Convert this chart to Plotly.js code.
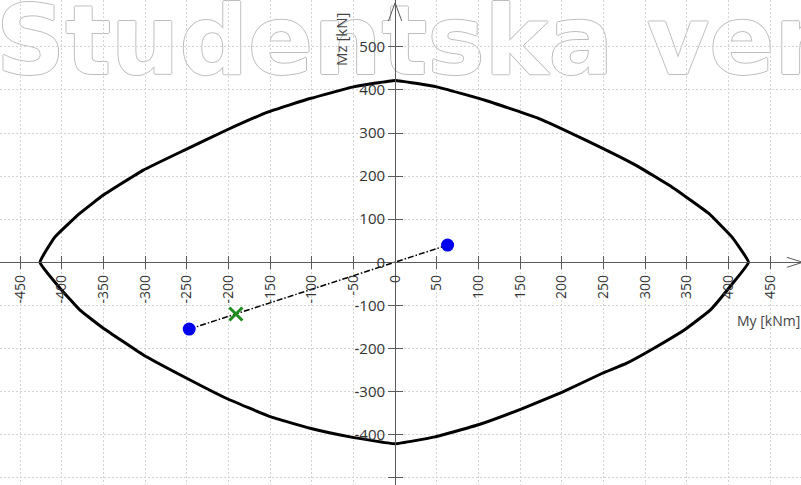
<!DOCTYPE html>
<html>
<head>
<meta charset="utf-8">
<script src="https://cdn.plot.ly/plotly-3.0.1.min.js"></script>
<style>html,body{margin:0;padding:0;background:#fff;}#chart{width:801px;height:485px;}</style>
</head>
<body>
<div id="chart"></div>
<script>
// Interaction diagram (capacity envelope), My [kNm] vs Mz [kN]
const envelopeMy = [-426, -408, -378, -350, -302, -252, -202, -152, -102, -50, 0, 50, 108, 172, 228, 288, 332, 376, 404, 424,
                    402, 378, 350, 310, 278, 248, 200, 152, 100, 48, 0, -54, -102, -150, -202, -250, -302, -350, -378, -402, -426];
const envelopeMz = [0, 59, 114, 156, 214, 261, 307, 349, 380, 407, 422, 407, 376, 334, 284, 226, 175, 114, 59, 0,
                    -56, -111, -153, -200, -234, -258, -302, -340, -377, -405, -421, -405, -385, -358, -316, -269, -215, -153, -111, -60, 0];
// Load line through origin with end points
const loadMy = [-247, 63];
const loadMz = [-155, 40];
// Design point
const designMy = [-191];
const designMz = [-120];
// Ticks
const xTicks = [-450, -400, -350, -300, -250, -200, -150, -100, -50, 0, 50, 100, 150, 200, 250, 300, 350, 400, 450];
const yTicks = [-500, -400, -300, -200, -100, 0, 100, 200, 300, 400, 500];
const xTitle = 'My [kNm]';
const yTitle = 'Mz [kN]';
const watermark = 'Studentska verzija';

const xr = [-474, 487];
const yr = [-516.7, 608.6];
const xPos = -xr[0] / (xr[1] - xr[0]);
const yPos = -yr[0] / (yr[1] - yr[0]);

const fontFam = 'Open Sans, Noto Sans, sans-serif';
const axisCol = '#5a5a5a';
const gridCol = '#d4d4d4';

const traces = [
  {x: envelopeMy, y: envelopeMz, type: 'scatter', mode: 'lines',
   line: {color: '#000', width: 3, shape: 'spline', smoothing: 0.3}, hoverinfo: 'skip'},
  {x: [loadMy[0], 0, loadMy[1]], y: [loadMz[0], 0, loadMz[1]], type: 'scatter', mode: 'lines',
   line: {color: '#000', width: 1.5, dash: '6px,2px,1.5px,2px'}},
  {x: loadMy, y: loadMz, type: 'scatter', mode: 'markers',
   marker: {color: '#0000ee', size: 13}},
  {x: designMy, y: designMz, type: 'scatter', mode: 'markers',
   marker: {symbol: 'x-thin', size: 13, line: {color: '#1e8c1e', width: 3}}},
  {x: [], y: [], xaxis: 'x2', yaxis: 'y2', type: 'scatter'}
];

const arrowY = 'M -8,560 L 0,602 L 8,560';
const arrowX = 'M 470,-11.6 L 489,0 L 470,11.6';
const wmShadow = '1px 0 0 #bdbdbd, -1px 0 0 #bdbdbd, 0 1px 0 #bdbdbd, 0 -1px 0 #bdbdbd';

const layout = {
  width: 801, height: 485,
  margin: {l: 0, r: 0, t: 0, b: 0, pad: 0},
  paper_bgcolor: '#fff', plot_bgcolor: 'rgba(0,0,0,0)',
  showlegend: false,
  font: {family: fontFam, color: '#333'},
  xaxis: {range: xr, tickvals: xTicks, ticktext: xTicks.map(String), tickangle: -90,
          showgrid: true, gridcolor: gridCol, griddash: '2px,2px', gridwidth: 1,
          zeroline: false, showline: true, linecolor: axisCol, linewidth: 1,
          anchor: 'free', position: yPos, ticks: 'outside', ticklen: 6, tickcolor: axisCol,
          tickfont: {size: 14, color: '#333'}, automargin: false, fixedrange: true},
  xaxis2: {range: xr, tickvals: xTicks, overlaying: 'x', anchor: 'free', position: yPos,
           ticks: 'inside', ticklen: 6, tickcolor: axisCol, showticklabels: false,
           showgrid: false, zeroline: false, showline: false, automargin: false, fixedrange: true},
  yaxis: {range: yr, tickvals: yTicks, ticktext: yTicks.map(String),
          showgrid: true, gridcolor: gridCol, griddash: '2px,2px', gridwidth: 1,
          zeroline: false, showline: true, linecolor: axisCol, linewidth: 1,
          anchor: 'free', position: xPos, ticks: 'outside', ticklen: 7, tickcolor: axisCol,
          tickfont: {size: 15, color: '#333'}, automargin: false, fixedrange: true},
  yaxis2: {range: yr, tickvals: yTicks, overlaying: 'y', anchor: 'free', position: xPos,
           ticks: 'inside', ticklen: 7, tickcolor: axisCol, showticklabels: false,
           showgrid: false, zeroline: false, showline: false, automargin: false, fixedrange: true},
  shapes: [
    {type: 'rect', xref: 'paper', yref: 'paper', layer: 'below',
     x0: -10/801, x1: 1.3, y0: (485-68)/485, y1: 1,
     line: {width: 0}, fillcolor: 'rgba(0,0,0,0)',
     label: {text: watermark, textposition: 'middle left', padding: 3,
             font: {family: 'DejaVu Sans', size: 96, weight: 'bold', color: '#ffffff', shadow: wmShadow}}},
    {type: 'path', xref: 'x', yref: 'y', path: arrowY, line: {color: axisCol, width: 1}},
    {type: 'path', xref: 'x', yref: 'y', path: arrowX, line: {color: axisCol, width: 1}}
  ],
  annotations: [
    {text: yTitle, xref: 'paper', yref: 'paper', x: 341/801, y: (485-40)/485, textangle: -90,
     xanchor: 'center', yanchor: 'middle', showarrow: false,
     font: {size: 15, color: '#444', family: fontFam}},
    {text: xTitle, xref: 'paper', yref: 'paper', x: 735/801, y: (485-320)/485,
     xanchor: 'left', yanchor: 'middle', showarrow: false,
     font: {size: 14, color: '#444', family: fontFam}}
  ]
};

Plotly.newPlot('chart', traces, layout, {staticPlot: true, displayModeBar: false});
</script>
</body>
</html>
